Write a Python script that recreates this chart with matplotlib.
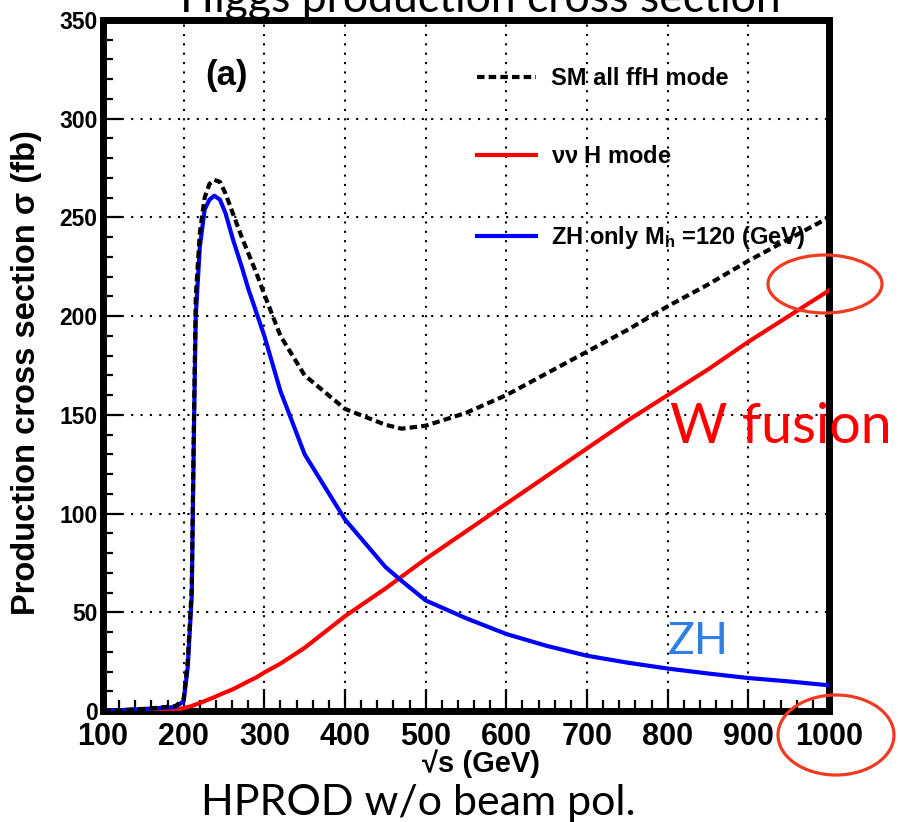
import numpy as np
import matplotlib.pyplot as plt
from matplotlib.patches import Ellipse
from matplotlib.ticker import MultipleLocator

# sqrt(s) points in GeV
sqrt_s = [100, 150, 190, 200, 205, 210, 213, 215, 220, 226, 232, 238, 245, 252, 261,
          272, 280, 290, 300, 320, 350, 400, 450, 470, 500, 550, 600, 650, 700, 750,
          800, 850, 900, 950, 1000]

# SM all ffH mode (black dotted)
all_ffh = [0, 1, 2.5, 6, 25, 62, 155, 210, 242, 260, 267, 269, 268, 262, 252,
           240, 232, 222, 211, 190, 170, 153, 145, 143, 144.5, 151, 160, 171, 182, 193,
           205, 216, 228, 239, 250]

# nu nu H mode (W fusion, red)
nnh = [0, 0, 0.5, 1.5, 2, 2.5, 3, 3.3, 4, 5, 6, 7, 8.3, 9.5, 11,
       13.3, 15, 17, 19.5, 24, 32, 48, 62, 68, 77, 91, 105, 119, 133, 147,
       160, 173, 187, 200, 213]

# ZH only, Mh = 120 GeV (blue)
zh_only = [0, 1, 2, 5, 22, 58, 150, 200, 235, 254, 259, 261, 259, 252, 239,
           225, 214, 202, 190, 162, 130, 97, 73, 66, 56, 47, 39, 33, 28, 24.5,
           21.5, 19, 16.7, 15, 13]

bold_font = ['Liberation Sans', 'DejaVu Sans']
plt.rcParams['mathtext.fontset'] = 'custom'
plt.rcParams['mathtext.rm'] = 'Liberation Sans:bold'
plt.rcParams['mathtext.it'] = 'Liberation Sans:bold'
plt.rcParams['mathtext.bf'] = 'Liberation Sans:bold'

W, H = 898, 822
fig = plt.figure(figsize=(W / 100, H / 100), dpi=100)
ax = fig.add_axes([103 / W, 1 - 711 / H, 726 / W, 691 / H])

ax.plot(sqrt_s, nnh, color='red', lw=3, label=r'$\nu\nu$ H mode', zorder=3)
ax.plot(sqrt_s, zh_only, color='blue', lw=3, label=r'ZH only M$_{h}$ =120 (GeV)', zorder=3)
ax.plot(sqrt_s, all_ffh, color='black', lw=3, linestyle=(0, (1.8, 1.0)),
        label='SM all ffH mode', zorder=4)

ax.set_xlim(100, 1000)
ax.set_ylim(0, 350)
ax.xaxis.set_major_locator(MultipleLocator(100))
ax.xaxis.set_minor_locator(MultipleLocator(20))
ax.yaxis.set_major_locator(MultipleLocator(50))
ax.yaxis.set_minor_locator(MultipleLocator(10))
ax.grid(True, which='major', color='black', linestyle=(0, (1, 3.5)), lw=1.5)

for s in ax.spines.values():
    s.set_linewidth(5)
ax.tick_params(axis='x', which='major', direction='in', length=16, width=1.6, pad=8)
ax.tick_params(axis='x', which='minor', direction='in', length=8, width=1.6)
ax.tick_params(axis='y', which='major', direction='in', length=14, width=1.6, pad=4)
ax.tick_params(axis='y', which='minor', direction='in', length=7, width=1.6)

for lab in ax.get_xticklabels():
    lab.set_family(bold_font)
    lab.set_weight('bold')
    lab.set_fontsize(22)
for lab in ax.get_yticklabels():
    lab.set_family(bold_font)
    lab.set_weight('bold')
    lab.set_fontsize(16.5)

ax.set_ylabel(r'Production cross section σ (fb)', family=bold_font, weight='bold',
              fontsize=23.5)
ax.yaxis.set_label_coords(-0.084, 0.49)
ax.set_xlabel('√s (GeV)', family=bold_font, weight='bold', fontsize=21)
ax.xaxis.set_label_coords(0.52, -0.056)

# legend in ROOT style
h, l = ax.get_legend_handles_labels()
order = [2, 0, 1]
leg = ax.legend([h[i] for i in order], [l[i] for i in order],
                loc='upper left', bbox_to_anchor=(0.515, 0.932), frameon=False,
                prop={'family': bold_font, 'weight': 'bold', 'size': 17},
                handlelength=2.5, handletextpad=0.65, labelspacing=2.35,
                borderpad=0, borderaxespad=0)

ax.text(0.17, 0.919, '(a)', transform=ax.transAxes, family=bold_font, weight='bold',
        fontsize=25, ha='center', va='center')

# slide annotations
fig.text(480 / W, 1 - 12 / H, 'Higgs production cross section', family='Lato',
         fontsize=32, ha='center', va='baseline')
fig.text(418 / W, 1 - 815 / H, 'HPROD w/o beam pol.', family='Lato',
         fontsize=31, ha='center', va='baseline')
fig.text(670 / W, 1 - 443 / H, 'W fusion', family='Lato', fontsize=40,
         color='red', ha='left', va='baseline')
fig.text(668 / W, 1 - 654 / H, 'ZH', family='Lato', fontsize=32,
         color='#2E7FE8', ha='left', va='baseline')

ring = '#F03A22'
fig.add_artist(Ellipse((825 / W, 1 - 284 / H), 114 / W, 58 / H, transform=fig.transFigure,
                       fill=False, ec=ring, lw=2.3))
fig.add_artist(Ellipse((836 / W, 1 - 735 / H), 116 / W, 80 / H, transform=fig.transFigure,
                       fill=False, ec=ring, lw=2.3))

fig.savefig('out.png', dpi=100)
